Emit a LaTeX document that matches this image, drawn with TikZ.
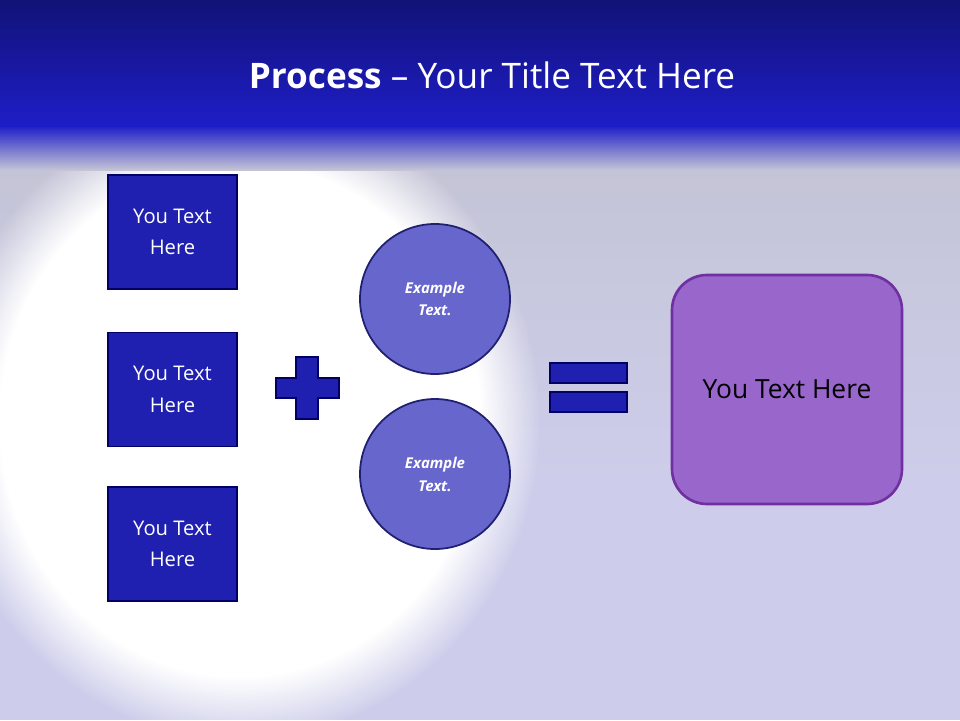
\documentclass[tikz,border=0pt]{standalone}
\usepackage{fontspec}
\setmainfont{Open Sans}
\usetikzlibrary{fadings}
\begin{document}
\begin{tikzpicture}[x=0.02cm,y=-0.02cm,
  sq/.style={draw=blue!40!black,line width=1pt,fill={rgb,255:red,32;green,32;blue,176},text=white,font=\fontsize{11.5}{18}\selectfont,align=center},
  circ/.style={circle,draw={rgb,255:red,32;green,32;blue,112},line width=1pt,fill={rgb,255:red,102;green,102;blue,204},text=white,font=\fontsize{8.5}{13}\selectfont\bfseries\itshape,align=center,minimum size=150*0.02cm,inner sep=0pt},
  bar/.style={draw=blue!40!black,line width=1pt,fill={rgb,255:red,32;green,32;blue,176}}]
\definecolor{topb}{RGB}{22,22,150}
\definecolor{bg}{RGB}{205,205,235}
\definecolor{gr}{RGB}{196,196,214}
\useasboundingbox (0,0) rectangle (960,720);
\fill[bg] (0,0) rectangle (960,720);
\shade[top color=gr,bottom color=bg] (0,160) rectangle (960,480);
\fill[white,path fading=circle with fuzzy edge 20 percent] (240,420) ellipse (300 and 320);
\fill[white,path fading=circle with fuzzy edge 20 percent] (240,400) ellipse (120 and 120);
\shade[top color={rgb,255:red,28;green,28;blue,200},bottom color=gr] (0,125) rectangle (960,170);
\shade[top color=topb!80!black,bottom color={rgb,255:red,30;green,30;blue,200}] (0,0) rectangle (960,126);
\node[text=white,font=\fontsize{20}{24}\selectfont] (title) at (492,75) {\textbf{Process} -- Your Title Text Here};
\node[sq,minimum width=129*0.02cm,minimum height=114*0.02cm] (b1) at (172.5,232) {You Text\\Here};
\node[sq,minimum width=129*0.02cm,minimum height=114*0.02cm] (b2) at (172.5,389.5) {You Text\\Here};
\node[sq,minimum width=129*0.02cm,minimum height=114*0.02cm] (b3) at (172.5,544) {You Text\\Here};
\draw[bar] (296,357) -- (318,357) -- (318,378) -- (339,378) -- (339,398) -- (318,398) -- (318,419) -- (296,419) -- (296,398) -- (276,398) -- (276,378) -- (296,378) -- cycle;
\node[circ] (c1) at (435,299) {Example\\Text.};
\node[circ] (c2) at (435,474) {Example\\Text.};
\draw[bar] (550,363) rectangle (627,383);
\draw[bar] (550,392) rectangle (627,412);
\node[draw={rgb,255:red,112;green,48;blue,160},line width=1.5pt,fill={rgb,255:red,153;green,102;blue,204},rounded corners=0.7cm,minimum width=230*0.02cm,minimum height=229*0.02cm,font=\fontsize{15}{19}\selectfont] (r) at (787,389.5) {You Text Here};
\end{tikzpicture}
\end{document}
